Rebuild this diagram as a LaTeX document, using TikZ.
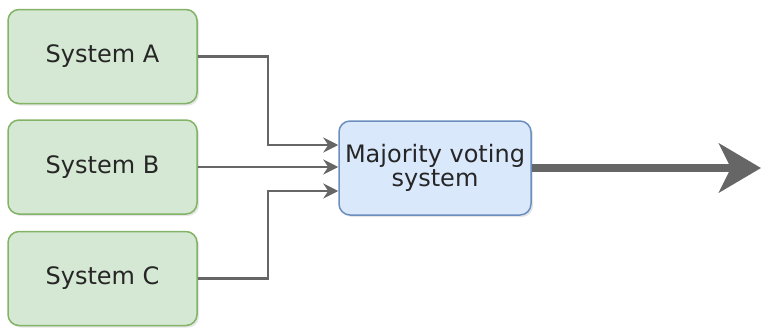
\documentclass[tikz,border=0pt]{standalone}
\usepackage{fontspec}
\setmainfont{DejaVu Sans}
\usetikzlibrary{arrows.meta,shadows}
\definecolor{gfill}{HTML}{D5E8D4}
\definecolor{gdraw}{HTML}{82B366}
\definecolor{bfill}{HTML}{DAE8FC}
\definecolor{bdraw}{HTML}{6C8EBF}
\definecolor{conn}{HTML}{666666}
\begin{document}
\begin{tikzpicture}[x=1pt,y=-1pt,
  sysbox/.style={draw=gdraw,fill=gfill,rounded corners=11pt,line width=1.5pt,
    minimum width=189pt,minimum height=94pt,inner sep=0pt,
    font=\fontsize{24}{28}\selectfont,text=black!85,
    drop shadow={opacity=0.2,shadow xshift=2pt,shadow yshift=-2pt}},
  votebox/.style={draw=bdraw,fill=bfill,rounded corners=11pt,line width=1.5pt,
    minimum width=192pt,minimum height=94pt,inner sep=0pt,align=center,
    font=\fontsize{24}{24.5}\selectfont,text=black!85,
    drop shadow={opacity=0.2,shadow xshift=2pt,shadow yshift=-2pt}},
  link/.style={draw=conn,line width=2.5pt,-{Stealth[length=15pt,width=15pt,inset=5pt]}},
  bigarrow/.style={draw=conn,line width=8pt,-{Stealth[length=42pt,width=49pt,inset=12pt]}}]
\useasboundingbox (0,0) rectangle (761,330);
\node[sysbox] (a) at (102.5,56.5) {System A};
\node[sysbox] (b) at (102.5,167) {System B};
\node[sysbox] (c) at (102.5,278.5) {System C};
\node[votebox] (v) at (435,168) {Majority voting\\system};
\coordinate (out) at (761,168);
\draw[link] (a.east) -| (268,145) -- (v.west |- 0,145);
\draw[link] (b.east) -- (b.east -| v.west);
\draw[link] (c.east) -| (268,191) -- (v.west |- 0,191);
\draw[bigarrow] (v.east) -- (out);
\end{tikzpicture}
\end{document}
